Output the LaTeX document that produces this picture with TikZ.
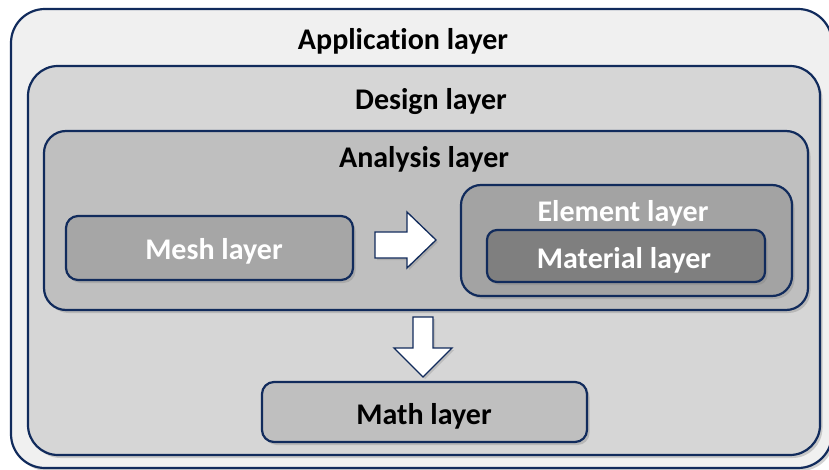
\documentclass[tikz,border=0pt]{standalone}
\usepackage{fontspec}
\setmainfont{Carlito}[Ligatures=NoCommon]
\usetikzlibrary{shadows}
\definecolor{navy}{HTML}{112B5C}
\definecolor{cApp}{HTML}{F0F0F0}
\definecolor{cDesign}{HTML}{D6D6D6}
\definecolor{cAnalysis}{HTML}{BFBFBF}
\definecolor{cMesh}{HTML}{A6A6A6}
\definecolor{cElement}{HTML}{A3A3A3}
\definecolor{cMaterial}{HTML}{7F7F7F}
\definecolor{cMath}{HTML}{BFBFBF}
\begin{document}
\begin{tikzpicture}[x=1pt,y=-1pt,
  layerbox/.style={draw=navy, line width=2.2pt, inner sep=0pt,
    drop shadow={shadow xshift=2.5pt,shadow yshift=-3pt,opacity=0.35}},
  lbl/.style={font=\fontsize{30}{32}\selectfont\bfseries, inner sep=0pt},
  blockarrow/.style={draw=navy, line width=1.3pt, fill=white, line join=miter,
    drop shadow={shadow xshift=2pt,shadow yshift=-2pt,opacity=0.3}}]
\useasboundingbox (0,0) rectangle (829,470);
\fill[white] (0,0) rectangle (829,470);
% boxes
\node[layerbox, fill=cApp, rounded corners=34pt, minimum width=821pt, minimum height=459pt] (app) at (421.5,238.5) {};
\node[layerbox, fill=cDesign, rounded corners=30pt, minimum width=792pt, minimum height=389pt] (design) at (424,260.5) {};
\node[layerbox, fill=cAnalysis, rounded corners=22pt, minimum width=764pt, minimum height=179pt] (analysis) at (426,220.5) {};
\node[layerbox, fill=cMesh, rounded corners=12pt, minimum width=287pt, minimum height=64pt] (mesh) at (209.5,248) {};
\node[layerbox, fill=cElement, rounded corners=20pt, minimum width=331pt, minimum height=111pt] (element) at (626.5,240.5) {};
\node[layerbox, fill=cMaterial, rounded corners=10pt, minimum width=278pt, minimum height=52pt] (material) at (626,256) {};
\node[layerbox, fill=cMath, rounded corners=12pt, minimum width=325pt, minimum height=60pt] (math) at (424.5,412) {};
% labels
\node[lbl] (applbl) at (403,41) {Application layer};
\node[lbl] (designlbl) at (431,102) {Design layer};
\node[lbl] (analysislbl) at (424,159) {Analysis layer};
\node[lbl, text=white] (elementlbl) at (623,213) {Element layer};
\node[lbl, text=white] (meshlbl) at (214,251) {Mesh layer};
\node[lbl, text=white] (materiallbl) at (624,260) {Material layer};
\node[lbl] (mathlbl) at (424,416) {Math layer};
% block arrows
\draw[blockarrow] (375,232) -- (407,232) -- (407,212) -- (436,240) -- (407,268) -- (407,258) -- (375,258) -- cycle;
\draw[blockarrow] (413,317) -- (433,317) -- (433,348) -- (452,348) -- (423,377) -- (394,348) -- (413,348) -- cycle;
\end{tikzpicture}
\end{document}
